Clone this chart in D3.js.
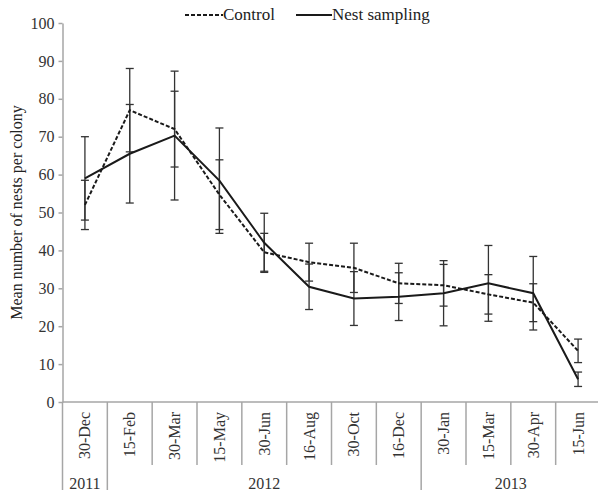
<!DOCTYPE html>
<html>
    <head>
        <script src="https://d3js.org/d3.v7.min.js"></script>
        <style>
            body { margin:0; background:#fff; }
            svg, svg text { font-family:"Liberation Serif", "Times New Roman", serif; }
            svg { display:block; }
            .tick text { font-size:16px; fill:#333; }
            .axis path, .axis line { stroke:#a6a6a6; stroke-width:1.5; }
        </style>
    </head>
    <body>
        <svg width="598" height="494"></svg>
    </body>
    <script>
        // data
        const dates = ['30-Dec','15-Feb','30-Mar','15-May','30-Jun','16-Aug',
                       '30-Oct','16-Dec','30-Jan','15-Mar','30-Apr','15-Jun'];
        const years = ['2011','2012','2013'];
        const yearCounts = [1, 7, 4];   // how many dates fall in each year
        const controlMean = [52, 77, 72, 54.7, 39.5, 36.9, 35.4, 31.3, 30.8, 28.4, 26.2, 13.5];
        const controlErr  = [6.5, 11, 10, 9.2, 5, 5, 6.5, 5.3, 5.5, 5.2, 5, 3.1];
        const nestMean    = [59, 65.5, 70.3, 58.4, 42, 30.4, 27.3, 27.8, 28.7, 31.3, 28.7, 6];
        const nestErr     = [11, 13, 17, 13.9, 7.8, 6, 7.1, 6.3, 8.6, 10, 9.7, 1.9];
        const yTicks = d3.range(0, 101, 10);

        const svg = d3.select('svg');
        const plotLeft = 62.5, plotRight = 600.5, plotTop = 23, plotBottom = 402;

        const x = d3.scaleBand().domain(dates).range([plotLeft, plotRight]).padding(0);
        const y = d3.scaleLinear().domain([0, 100]).range([plotBottom, plotTop]);
        const cx = d => x(d) + x.bandwidth() / 2;

        // y axis
        svg.append('g')
            .attr('class', 'axis')
            .attr('transform', `translate(${plotLeft},0)`)
            .call(d3.axisLeft(y).tickValues(yTicks).tickSize(4).tickSizeOuter(0).tickPadding(4))
            .attr('font-family', null)
            .attr('font-size', null);

        // x axis baseline
        const xa = svg.append('g').attr('class', 'axis');
        xa.append('line')
            .attr('x1', plotLeft).attr('x2', plotRight)
            .attr('y1', plotBottom).attr('y2', plotBottom);

        // group boundaries (year separators)
        let groupEdges = [0];
        yearCounts.forEach(c => groupEdges.push(groupEdges[groupEdges.length - 1] + c));

        // date separators
        d3.range(dates.length + 1).forEach(i => {
            const xx = plotLeft + i * x.step();
            const isGroup = groupEdges.includes(i);
            xa.append('line')
                .attr('x1', xx).attr('x2', xx)
                .attr('y1', plotBottom).attr('y2', isGroup ? plotBottom + 88 : plotBottom + 63);
        });

        // date labels, rotated
        svg.selectAll('.dlab')
            .data(dates)
            .enter().append('text')
            .attr('class', 'dlab')
            .attr('transform', d => `translate(${cx(d) + 5.5},${plotBottom + 10}) rotate(-90)`)
            .style('text-anchor', 'end')
            .style('font-size', '16px')
            .style('fill', '#333')
            .text(d => d);

        // year labels
        svg.selectAll('.ylab')
            .data(years)
            .enter().append('text')
            .attr('class', 'ylab')
            .attr('x', (d, i) => plotLeft + (groupEdges[i] + groupEdges[i + 1]) / 2 * x.step())
            .attr('y', plotBottom + 87)
            .style('text-anchor', 'middle')
            .style('font-size', '16px')
            .style('fill', '#333')
            .text(d => d);

        // y axis title
        svg.append('text')
            .attr('transform', `translate(22,${(plotTop + plotBottom) / 2}) rotate(-90)`)
            .style('text-anchor', 'middle')
            .style('font-size', '16px')
            .style('fill', '#222')
            .text('Mean number  of nests per colony');

        // error bars
        const series = [
            { mean: controlMean, err: controlErr, dash: '4,2' },
            { mean: nestMean, err: nestErr, dash: null }
        ];
        const capW = 4;
        series.forEach(s => {
            const g = svg.append('g').attr('stroke', '#333').attr('stroke-width', 1.3);
            dates.forEach((d, i) => {
                const hi = y(s.mean[i] + s.err[i]), lo = y(s.mean[i] - s.err[i]);
                g.append('line').attr('x1', cx(d)).attr('x2', cx(d)).attr('y1', hi).attr('y2', lo);
                g.append('line').attr('x1', cx(d) - capW).attr('x2', cx(d) + capW).attr('y1', hi).attr('y2', hi);
                g.append('line').attr('x1', cx(d) - capW).attr('x2', cx(d) + capW).attr('y1', lo).attr('y2', lo);
            });
        });

        // lines
        const line = d3.line().x((v, i) => cx(dates[i])).y(v => y(v));
        series.forEach(s => {
            svg.append('path')
                .datum(s.mean)
                .attr('d', line)
                .attr('fill', 'none')
                .attr('stroke', '#1a1a1a')
                .attr('stroke-width', 2)
                .attr('stroke-dasharray', s.dash);
        });

        // legend
        const legend = [
            { name: 'Control', dash: '4,2', x1: 185, x2: 223 },
            { name: 'Nest sampling', dash: null, x1: 296, x2: 332 }
        ];
        legend.forEach(l => {
            svg.append('line')
                .attr('x1', l.x1).attr('x2', l.x2).attr('y1', 15).attr('y2', 15)
                .attr('stroke', '#1a1a1a').attr('stroke-width', 2)
                .attr('stroke-dasharray', l.dash);
            svg.append('text')
                .attr('x', l.x2).attr('y', 20)
                .style('font-size', '17px')
                .style('fill', '#222')
                .text(l.name);
        });
    </script>
</html>
